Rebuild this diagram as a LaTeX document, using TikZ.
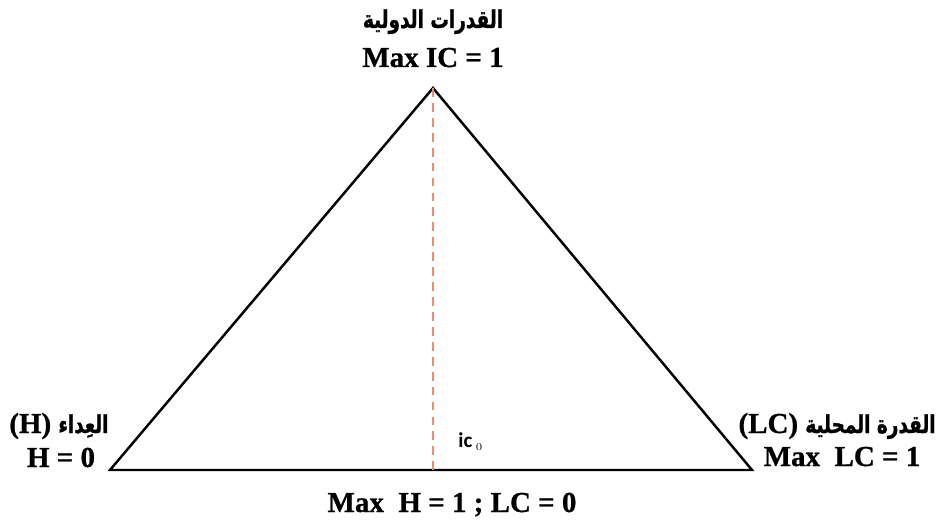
\documentclass[tikz,border=0pt]{standalone}
\usepackage{fontspec}
\setmainfont{Liberation Serif}[BoldFeatures={FakeBold=0.8}]
\newfontfamily\arabicfont[Script=Arabic,BoldFont={DejaVu Sans Bold},FakeStretch=0.75,FakeBold=1.2]{DejaVu Sans}
\newfontfamily\icfont{Carlito}
\TeXXeTstate=1
\usetikzlibrary{positioning}
\definecolor{dashorange}{RGB}{240,140,110}
\newcommand\arsize{\fontsize{14}{16}\selectfont}

\begin{document}
\begin{tikzpicture}[x=0.02cm,y=-0.02cm,
  lab/.style={font=\fontsize{16.5}{18}\selectfont\bfseries,inner sep=0pt,anchor=base},
  arab/.style={font=\arsize\arabicfont\bfseries,inner sep=0pt,anchor=base}]
\useasboundingbox (0,0) rectangle (947,520);
\coordinate (apex) at (433,88);
\coordinate (lft) at (110,470);
\coordinate (rgt) at (752,470);
\coordinate (foot) at (433,470);
% triangle
\draw[line width=1.4pt,line join=miter] (lft)--(apex)--(rgt)--cycle;
\draw[dashorange,line width=1pt,dash pattern=on 5pt off 3.5pt] (apex)--(foot);
% labels
\node[arab] (topar) at (433,28) {\beginR القدرات الدولية\endR};
\node[lab] (topmax) at (433,67) {Max IC = 1};
\node[lab,anchor=base west] (lftname) at (9,433) {(H) {\arabicfont\arsize\beginR العِداء\endR}};
\node[lab] (lftval) at (61,467) {H = 0};
\node[lab,anchor=base east] (rgtname) at (936,433) {(LC) {\arabicfont\arsize\beginR القدرة المحلية\endR}};
\node[lab] (rgtval) at (842,466) {Max\ \ LC = 1};
\node[lab] (botval) at (452,512) {Max\ \ H = 1 ; LC = 0};
\node[inner sep=0pt,anchor=base west,font=\icfont\fontsize{12}{14}\selectfont\bfseries] (ic) at (458,447) {ic\,$_{\scriptscriptstyle 0}$};
\end{tikzpicture}
\end{document}
